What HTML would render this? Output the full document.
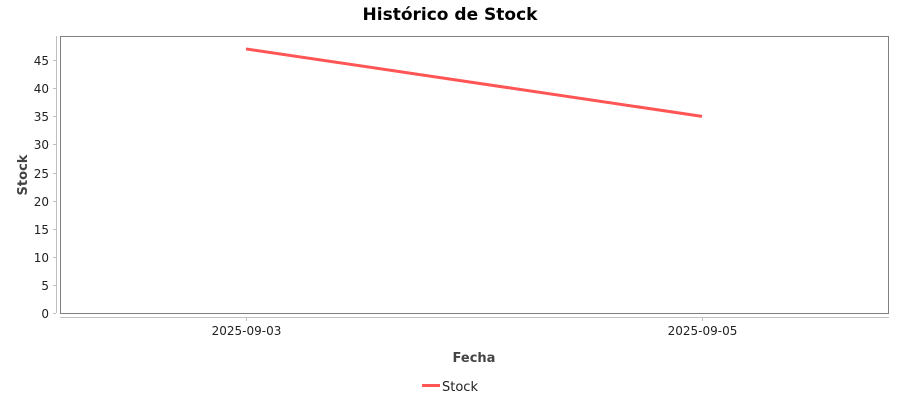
<!DOCTYPE html>
<html><head><meta charset="utf-8"><style>
html,body{margin:0;padding:0;background:#fff;width:900px;height:400px;overflow:hidden}
svg{display:block;font-family:"DejaVu Sans","Liberation Sans",sans-serif}
</style></head><body>
<svg id="chart" width="900" height="400">
<text x="450" y="20" text-anchor="middle" font-size="17" font-weight="bold" fill="#000">Histórico de Stock</text>
<rect x="60.5" y="36.5" width="828" height="277" fill="#fff" stroke="#808080" stroke-width="1"/>
<g id="yaxis"></g>
<g id="xaxis"></g>
<text transform="translate(27,175) rotate(-90)" text-anchor="middle" font-size="13" font-weight="bold" fill="#444">Stock</text>
<text x="474" y="362" text-anchor="middle" font-size="13" font-weight="bold" fill="#444">Fecha</text>
<g id="series"></g>
<g>
<line x1="422" y1="385.5" x2="440" y2="385.5" stroke="#ff5555" stroke-width="3"/>
<text x="442" y="391" font-size="13" fill="#222">Stock</text>
</g>
</svg>
<script>
const categories = ["2025-09-03","2025-09-05"];
const stockValues = [47, 35];
const yTicks = [0,5,10,15,20,25,30,35,40,45];
const NS="http://www.w3.org/2000/svg";
const yMin=0,yMax=49.3,plotTop=36,plotBottom=313;
function y(v){return plotBottom-(v-yMin)/(yMax-yMin)*(plotBottom-plotTop);}
const xStart=246,xEnd=702;
function x(i){return categories.length>1?xStart+i*(xEnd-xStart)/(categories.length-1):(xStart+xEnd)/2;}
function mk(tag,attrs,parent){const e=document.createElementNS(NS,tag);for(const k in attrs)e.setAttribute(k,attrs[k]);parent.appendChild(e);return e;}
const ya=document.getElementById('yaxis');
mk('line',{x1:56.5,y1:36,x2:56.5,y2:313,stroke:'#c0c0c0'},ya);
yTicks.forEach(t=>{
  const yy=Math.round(y(t))+0.5;
  mk('line',{x1:53,y1:yy,x2:56,y2:yy,stroke:'#c0c0c0'},ya);
  const tx=mk('text',{x:49,y:yy+4.5,'text-anchor':'end','font-size':12,fill:'#222'},ya);
  tx.textContent=t;
  
  
});
const xa=document.getElementById('xaxis');
mk('line',{x1:60,y1:317.5,x2:889,y2:317.5,stroke:'#c0c0c0'},xa);
categories.forEach((c,i)=>{
  const xx=Math.round(x(i))+0.5;
  mk('line',{x1:xx,y1:318,x2:xx,y2:321,stroke:'#c0c0c0'},xa);
  const tx=mk('text',{x:xx,y:335,'text-anchor':'middle','font-size':12,fill:'#222'},xa);
  tx.textContent=c;
  
  
});
const s=document.getElementById('series');
const pts=stockValues.map((v,i)=>x(i)+','+y(v)).join(' ');
const pl=mk('polyline',{points:pts,fill:'none',stroke:'#ff5555','stroke-width':3},s);


</script>
</body></html>
